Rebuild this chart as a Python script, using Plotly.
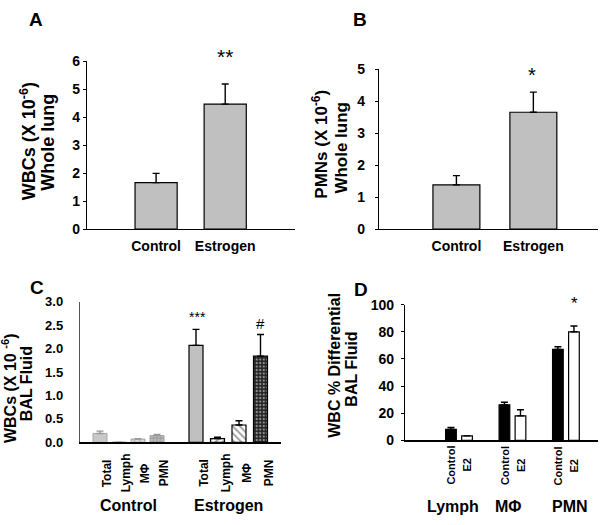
import plotly.graph_objects as go

W, H = 600, 525
FONT = "Liberation Sans, Arial, sans-serif"


def px(x):
    return x / W


def py(y):
    return 1 - y / H


# ---------------- data ----------------
a_cats = ["Control", "Estrogen"]
a_vals = [1.66, 4.47]
a_err = [0.33, 0.72]

b_cats = ["Control", "Estrogen"]
b_vals = [1.38, 3.65]
b_err = [0.29, 0.63]

c_labels = ["Total", "Lymph", "MΦ", "PMN"]
c_groups = ["Control", "Estrogen"]
c_ctrl_vals = [0.19, 0.005, 0.07, 0.145]
c_ctrl_err = [0.05, 0.0, 0.01, 0.025]
c_e2_vals = [2.07, 0.08, 0.37, 1.84]
c_e2_err = [0.34, 0.03, 0.09, 0.46]

d_groups = ["Lymph", "MΦ", "PMN"]
d_series = ["Control", "E2"]
d_ctrl_vals = [8.1, 26.2, 67.1]
d_ctrl_err = [1.4, 1.9, 1.9]
d_e2_vals = [3.3, 18.1, 80.0]
d_e2_err = [0.0, 4.5, 4.3]

# slot layout for panel C (x positions of the bars on the numeric axis)
c_ctrl_slots = [0, 0.95, 1.9, 2.85]
c_e2_slots = [4.8, 5.875, 6.95, 8.025]

fig = go.Figure()

ERR = dict(type="data", symmetric=False, color="black", thickness=1.4, width=3.5)

# ---------------- A ----------------
fig.add_trace(go.Bar(
    x=a_cats, y=a_vals, width=0.61, xaxis="x", yaxis="y",
    marker=dict(color="#c0c0c0", line=dict(color="black", width=1.2)),
    error_y=dict(ERR, array=a_err, arrayminus=[0] * len(a_err)),
))

# ---------------- B ----------------
fig.add_trace(go.Bar(
    x=b_cats, y=b_vals, width=0.61, xaxis="x2", yaxis="y2",
    marker=dict(color="#c0c0c0", line=dict(color="black", width=1.2)),
    error_y=dict(ERR, array=b_err, arrayminus=[0] * len(b_err)),
))

# ---------------- C ----------------
fig.add_trace(go.Bar(
    x=c_ctrl_slots, y=c_ctrl_vals, width=0.7, xaxis="x3", yaxis="y3",
    marker=dict(
        color="#c8c8c8",
        line=dict(color="#a8a8a8", width=1),
        pattern=dict(shape=["", "/", "\\", "."],
                     fgcolor=["#c8c8c8", "#9a9a9a", "#9a9a9a", "#dddddd"],
                     bgcolor=["#c8c8c8", "#dcdcdc", "#dcdcdc", "#a0a0a0"],
                     size=[6, 4, 4, 3.5], solidity=[0.3, 0.4, 0.4, 0.35]),
    ),
    error_y=dict(ERR, array=c_ctrl_err, arrayminus=[0] * 4, color="#999999"),
))
fig.add_trace(go.Bar(
    x=c_e2_slots, y=c_e2_vals, width=0.7, xaxis="x3", yaxis="y3",
    marker=dict(
        color=["#c0c0c0", "white", "white", "#222222"],
        line=dict(color="black", width=1.2),
        pattern=dict(shape=["", "/", "\\", "."],
                     fgcolor=["#c0c0c0", "#222222", "#222222", "#c8c8c8"],
                     bgcolor=["#c0c0c0", "white", "white", "#1a1a1a"],
                     size=[6, 5, 5, 3.5], solidity=[0.3, 0.4, 0.4, 0.35]),
    ),
    error_y=dict(ERR, array=c_e2_err, arrayminus=[0] * 4),
))

# ---------------- D ----------------
fig.add_trace(go.Bar(
    x=d_groups, y=d_ctrl_vals, width=0.2, offset=-0.25, xaxis="x4", yaxis="y4",
    marker=dict(color="black", line=dict(color="black", width=1.2)),
    error_y=dict(ERR, array=d_ctrl_err, arrayminus=[0] * 3),
))
fig.add_trace(go.Bar(
    x=d_groups, y=d_e2_vals, width=0.2, offset=0.05, xaxis="x4", yaxis="y4",
    marker=dict(color="white", line=dict(color="black", width=1.2)),
    error_y=dict(ERR, array=d_e2_err, arrayminus=[0] * 3),
))

# ---------------- axes ----------------
base_x = dict(showline=True, linecolor="black", linewidth=1.2, showgrid=False,
              zeroline=False, ticks="", fixedrange=True)
base_y = dict(showline=True, linecolor="black", linewidth=1.2, showgrid=False,
              zeroline=False, ticks="outside", ticklen=3, tickcolor="black",
              fixedrange=True)

fig.update_layout(
    width=W, height=H, margin=dict(l=0, r=0, t=0, b=0),
    paper_bgcolor="white", plot_bgcolor="white", showlegend=False,
    font=dict(family=FONT, color="black"),
    barmode="overlay",
    xaxis=dict(base_x, domain=[px(87), px(295)], anchor="y", range=[-1.0, 2.01],
               tickfont=dict(size=14, weight="bold"), ticklabelstandoff=4),
    yaxis=dict(base_y, domain=[py(228), py(55)], anchor="x", range=[0, 6], dtick=1,
               tickfont=dict(size=14, weight="bold")),
    xaxis2=dict(base_x, domain=[px(379), px(598)], anchor="y2", range=[-1.006, 1.84],
                tickfont=dict(size=14, weight="bold"), ticklabelstandoff=4),
    yaxis2=dict(base_y, domain=[py(228), py(63)], anchor="x2", range=[0, 5], dtick=1,
                tickfont=dict(size=14, weight="bold"), ticklabelstandoff=7),
    xaxis3=dict(base_x, domain=[px(80), px(281)], anchor="y3", range=[-1.0, 9.05],
                showticklabels=False),
    yaxis3=dict(base_y, domain=[py(448), py(303)], anchor="x3", range=[0, 3], dtick=0.5,
                tickformat=".1f", ticks="", linecolor="#555555",
                tickfont=dict(size=13, weight="bold"), ticklabelstandoff=13),
    xaxis4=dict(base_x, domain=[px(405), px(598)], anchor="y4", range=[-1.01, 2.6],
                showticklabels=False),
    yaxis4=dict(base_y, domain=[py(446), py(306)], anchor="x4", range=[0, 100], dtick=20,
                tickfont=dict(size=14, weight="bold"), ticklabelstandoff=4),
)

ann = []


def txt(x, y, s, size, bold=True, angle=0, **kw):
    d = dict(x=px(x), y=py(y), xref="paper", yref="paper", text=s, showarrow=False,
             xanchor="center", yanchor="middle", textangle=angle,
             font=dict(size=size, family=FONT, color="black",
                       weight="bold" if bold else "normal"))
    d.update(kw)
    ann.append(d)


# panel letters
txt(36, 12, "A", 19)
txt(360, 12, "B", 19)
txt(37, 288, "C", 19)
txt(361, 290, "D", 19)

# y titles
txt(28, 137.5, "WBCs (X 10<sup>-6</sup>)", 18, angle=-90)
txt(48, 139, "Whole lung", 18, angle=-90)
txt(320, 141, "PMNs (X 10<sup>-6</sup>)", 17, angle=-90)
txt(342, 144, "Whole lung", 17, angle=-90)
txt(9, 392, "WBCs (X 10 <sup>-6</sup>)", 16, angle=-90)
txt(26, 388, "BAL Fluid", 16, angle=-90)
txt(335, 369, "WBC % Differential", 16, angle=-90)
txt(352, 373, "BAL Fluid", 16, angle=-90)

# significance marks
txt(225, 50, "**", 21, bold=False)
txt(532, 69, "*", 20, bold=False)
txt(197, 319, "***", 14, bold=False)
txt(260, 325, "#", 15, bold=False)
txt(574, 305, "*", 17, bold=False)

# panel C category labels (rotated) and group labels
for slots, shift in ((c_ctrl_slots, 7), (c_e2_slots, 8.5)):
    for s, lab in zip(slots, c_labels):
        ann.append(dict(x=s, y=py(480), xref="x3", yref="paper", text=lab,
                        showarrow=False, textangle=-90, xshift=shift,
                        xanchor="center", yanchor="middle",
                        font=dict(size=12, family=FONT, color="black", weight="bold")))
for g, slots in zip(c_groups, (c_ctrl_slots, c_e2_slots)):
    ann.append(dict(x=(slots[0] + slots[-1]) / 2, y=py(513), xref="x3", yref="paper",
                    text=g, showarrow=False, xanchor="center", yanchor="middle",
                    font=dict(size=16, family=FONT, color="black", weight="bold")))

# panel D series labels (rotated) and group labels
for g in d_groups:
    for lab, shift in zip(d_series, (-8, 8)):
        ann.append(dict(x=g, y=py(472), xref="x4", yref="paper", text=lab,
                        showarrow=False, textangle=-90, xshift=shift,
                        xanchor="center", yanchor="middle",
                        font=dict(size=11, family=FONT, color="black", weight="bold")))
for g, shift in zip(d_groups, (-6, -4, 4)):
    ann.append(dict(x=g, y=py(514), xref="x4", yref="paper", text=g,
                    showarrow=False, xanchor="center", yanchor="middle", xshift=shift,
                    font=dict(size=16, family=FONT, color="black", weight="bold")))

fig.update_layout(annotations=ann)
fig.write_html("out.html",
               config={"displayModeBar": False, "staticPlot": True},
               post_script="document.body.style.margin='0';"
                           "document.body.style.overflow='hidden';")
